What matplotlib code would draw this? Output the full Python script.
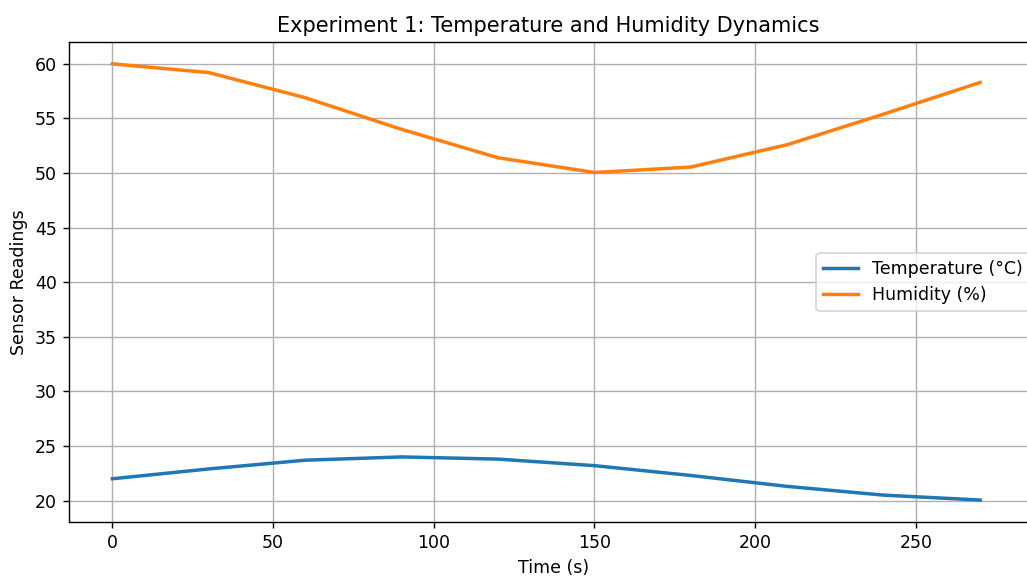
import matplotlib
matplotlib.use("Agg")
import matplotlib.pyplot as plt

# readings every 30 s
time_s = [0, 30, 60, 90, 120, 150, 180, 210, 240, 270]
temperature = [22.0, 22.9, 23.7, 24.0, 23.8, 23.2, 22.3, 21.3, 20.5, 20.05]
humidity = [60.0, 59.2, 56.9, 54.0, 51.4, 50.05, 50.55, 52.6, 55.4, 58.3]

DPI = 125
fig, ax = plt.subplots(figsize=(1027 / DPI, 576 / DPI), dpi=DPI)
# the original image is cropped on the right, so the axes run past the edge
fig.subplots_adjust(left=69 / 1027, right=1038 / 1027, top=0.927, bottom=0.094)

ax.plot(time_s, temperature, lw=2, label="Temperature (°C)")
ax.plot(time_s, humidity, lw=2, label="Humidity (%)")
ax.set_xlim(-13.5, 288)

ax.set_title("Experiment 1: Temperature and Humidity Dynamics", x=(548 - 69) / 969)
ax.set_xlabel("Time (s)")
ax.set_ylabel("Sensor Readings")
ax.grid(True)
ax.legend(loc="center right")

fig.savefig("out.png", dpi=DPI)
plt.close(fig)
